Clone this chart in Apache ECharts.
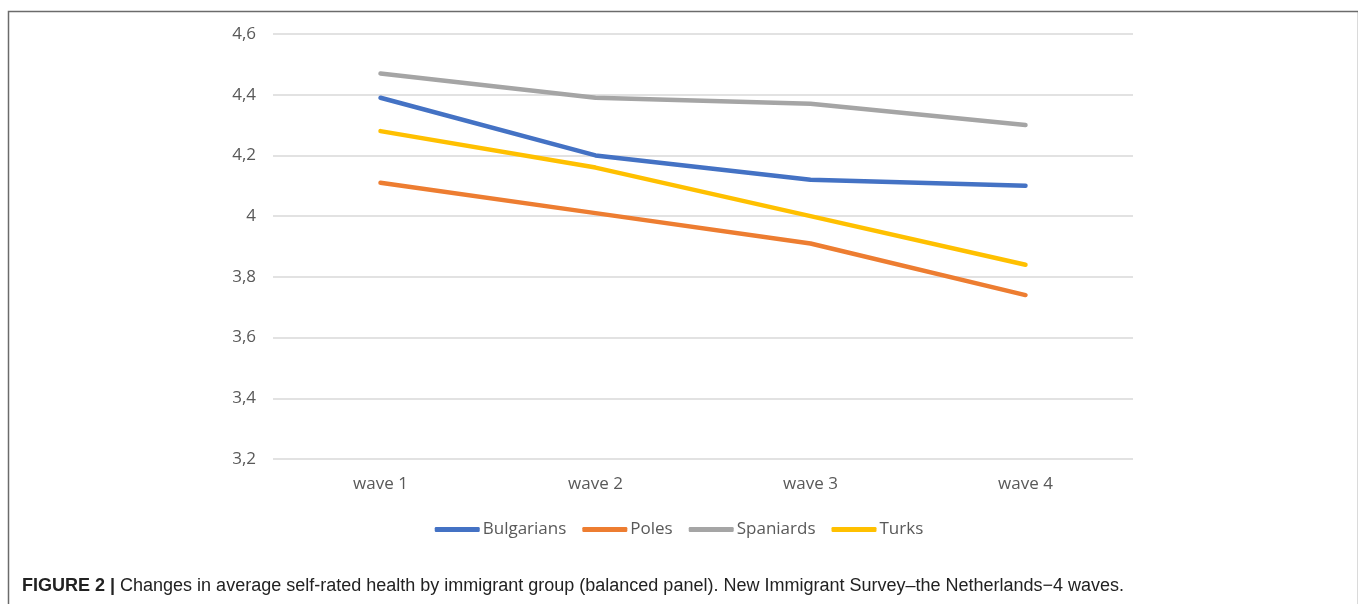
<!DOCTYPE html>
<html>
<head>
<meta charset="utf-8">
<script src="https://cdn.jsdelivr.net/npm/echarts@6/dist/echarts.min.js"></script>
<style>
html,body{margin:0;padding:0;background:#fff;}
#chart{width:1358px;height:604px;}
</style>
</head>
<body>
<div id="chart"></div>
<script>
var categories = ['wave 1', 'wave 2', 'wave 3', 'wave 4'];
var bulgarians = [4.39, 4.20, 4.12, 4.10];
var poles = [4.11, 4.01, 3.91, 3.74];
var spaniards = [4.47, 4.39, 4.37, 4.30];
var turks = [4.28, 4.16, 4.00, 3.84];
var seriesNames = ['Bulgarians', 'Poles', 'Spaniards', 'Turks'];
var colors = ['#4472C4', '#ED7D31', '#A5A5A5', '#FFC000'];
var yTicks = { min: 3.2, max: 4.6, interval: 0.2 };

var chart = echarts.init(document.getElementById('chart'));
var labelFont = '"Open Sans", "Noto Sans", sans-serif';
function mk(name, data, i) {
  return {
    name: name, type: 'line', data: data, symbol: 'none',
    lineStyle: { color: colors[i], width: 4.5, cap: 'round', join: 'round' },
    itemStyle: { color: colors[i] }
  };
}
chart.setOption({
  animation: false,
  color: colors,
  graphic: [{
    type: 'rect', left: 6, top: 9,
    shape: { x: 0, y: 0, width: 1350, height: 640 },
    style: { fill: 'none', stroke: '#6b6b6b', lineWidth: 1.5 },
    silent: true
  }],
  title: {
    left: 17, top: 572,
    text: '{b|FIGURE 2 |} {n|Changes in average self-rated health by immigrant group (balanced panel). New Immigrant Survey\u2013the Netherlands\u22124 waves.}',
    textStyle: {
      fontWeight: 'normal',
      rich: {
        b: { fontFamily: '"Liberation Sans", Arial, sans-serif', fontWeight: 'bold', fontSize: 18, color: '#222' },
        n: { fontFamily: '"Liberation Sans", Arial, sans-serif', fontWeight: 'normal', fontSize: 18, color: '#222' }
      }
    }
  },
  legend: {
    data: seriesNames,
    top: 516, left: 'center',
    icon: 'roundRect',
    itemWidth: 45, itemHeight: 5, itemGap: 16,
    textStyle: { fontFamily: labelFont, fontSize: 17, color: '#595959', padding: [0, 0, 0, -2] }
  },
  grid: { left: 273, right: 225, top: 34, bottom: 145 },
  xAxis: {
    type: 'category', data: categories, boundaryGap: true,
    axisLine: { show: false }, axisTick: { show: false },
    axisLabel: { fontFamily: labelFont, fontSize: 17, color: '#595959', margin: 17 }
  },
  yAxis: {
    type: 'value', min: yTicks.min, max: yTicks.max, interval: yTicks.interval,
    axisLine: { show: false }, axisTick: { show: false },
    splitLine: { lineStyle: { color: '#D9D9D9', width: 1.5 } },
    axisLabel: {
      fontFamily: labelFont, fontSize: 17, color: '#595959', margin: 17,
      formatter: function (v) {
        var s = (Math.round(v * 10) / 10).toString();
        return s.replace('.', ',');
      }
    }
  },
  series: [mk('Bulgarians', bulgarians, 0), mk('Poles', poles, 1), mk('Spaniards', spaniards, 2), mk('Turks', turks, 3)]
});
</script>
</body>
</html>
